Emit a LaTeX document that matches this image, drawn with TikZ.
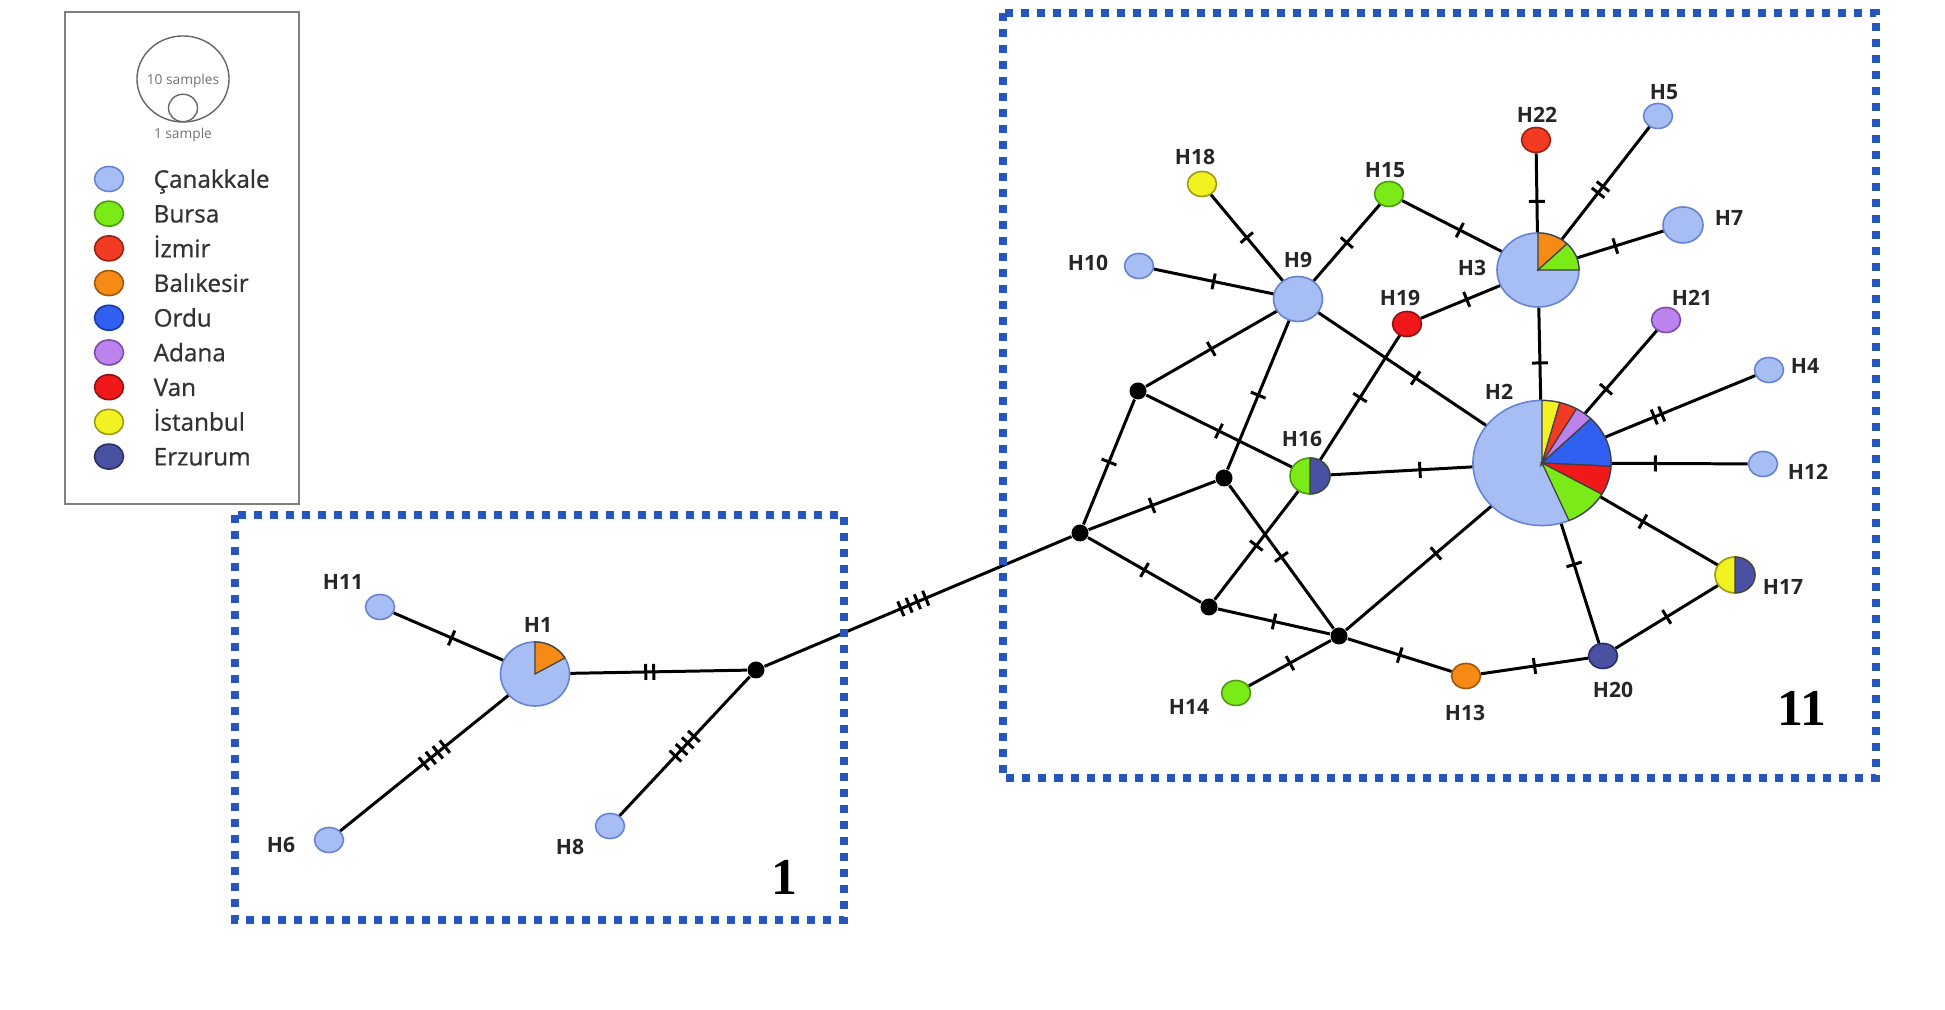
\documentclass[tikz,border=0pt]{standalone}
\usepackage{fontspec}
\setsansfont{Open Sans}
\newfontfamily\legfont[FakeBold=0.8]{Open Sans}
\newfontfamily\boxnumfont{Liberation Serif}
\usetikzlibrary{shapes.geometric,decorations.markings}
\definecolor{canakkale}{HTML}{A6BEF4}
\definecolor{canakkaleline}{HTML}{6682D4}
\definecolor{bursa}{HTML}{7AEB16}
\definecolor{bursaline}{HTML}{4C9A10}
\definecolor{izmir}{HTML}{F33A22}
\definecolor{izmirline}{HTML}{9A2010}
\definecolor{balikesir}{HTML}{F58A14}
\definecolor{balikesirline}{HTML}{A0560A}
\definecolor{ordu}{HTML}{3060F2}
\definecolor{orduline}{HTML}{1A3AA0}
\definecolor{adana}{HTML}{BC82EE}
\definecolor{adanaline}{HTML}{7A4AA8}
\definecolor{van}{HTML}{F01818}
\definecolor{vanline}{HTML}{901010}
\definecolor{istanbul}{HTML}{F2F222}
\definecolor{istanbulline}{HTML}{9A9A10}
\definecolor{erzurum}{HTML}{4A50A2}
\definecolor{erzurumline}{HTML}{2A2E66}
\definecolor{clusterblue}{HTML}{2456BE}
\newcommand{\pieslice}[6]{%
  \filldraw[fill=#6,draw=black!75,line width=0.35pt] (#1.center) -- ++(#2:#4 and #5)
    arc[start angle=#2,end angle=#3,x radius=#4,y radius=#5] -- cycle;}

\begin{document}
\begin{tikzpicture}[x=0.01cm,y=0.01cm,
  hap/.style={ellipse,inner sep=0pt,line width=0.45pt,draw=canakkaleline,fill=canakkale},
  col/.style={fill=#1,draw=#1line},
  sz1/.style={minimum width=0.29cm,minimum height=0.25cm},
  sz2/.style={minimum width=0.40cm,minimum height=0.36cm},
  jn/.style={circle,fill=black,inner sep=0pt,minimum size=0.17cm},
  hlbl/.style={font=\sffamily\bfseries\fontsize{6}{7}\selectfont,text=black!85,inner sep=0pt},
  leg/.style={font=\legfont\fontsize{6.9}{8}\selectfont,text=black!80,anchor=base west,inner sep=0pt,yshift=-0.088cm},
  ln/.style={line width=0.85pt},
  t1/.style={postaction={decorate,decoration={markings,mark=at position #1 with {\draw[line width=0.85pt] (0,-0.08cm) -- (0,0.08cm);}}}},
  t1/.default=0.5,
  t2/.style={postaction={decorate,decoration={markings,mark=at position #1 with {\draw[line width=0.85pt] (-0.04cm,-0.08cm) -- (-0.04cm,0.08cm) (0.04cm,-0.08cm) -- (0.04cm,0.08cm);}}}},
  t2/.default=0.5,
  t4/.style={postaction={decorate,decoration={markings,mark=at position #1 with {\draw[line width=0.85pt] (-0.135cm,-0.08cm) -- (-0.135cm,0.08cm) (-0.045cm,-0.08cm) -- (-0.045cm,0.08cm) (0.045cm,-0.08cm) -- (0.045cm,0.08cm) (0.135cm,-0.08cm) -- (0.135cm,0.08cm);}}}},
  t4/.default=0.5,
  cluster/.style={draw=clusterblue,line width=0.08cm,dash pattern=on 0.08cm off 0.08cm},
  boxnum/.style={font=\boxnumfont\bfseries\fontsize{14.7}{16}\selectfont,inner sep=0pt}]
\useasboundingbox (0,0) rectangle (1945,1010);

\draw[black!50,line width=0.75pt] (65,506) rectangle (299,998);
\node[ellipse,draw=black!60,line width=0.4pt,inner sep=0pt,minimum width=0.92cm,minimum height=0.86cm] (lgBig) at (183,931) {};
\node[ellipse,draw=black!60,line width=0.4pt,inner sep=0pt,minimum width=0.29cm,minimum height=0.274cm] (lgSmall) at (183,902) {};
\node[font=\sffamily\fontsize{3.9}{4}\selectfont,text=black!55] (lgTen) at (183,929) {10 samples};
\node[font=\sffamily\fontsize{3.9}{4}\selectfont,text=black!55] (lgOne) at (183,875) {1 sample};
\node[hap,sz1] (lg1) at (109,831) {};
\node[leg] (lt1) at (153,831) {Çanakkale};
\node[hap,sz1,col=bursa] (lg2) at (109,796.3) {};
\node[leg] (lt2) at (153,796.3) {Bursa};
\node[hap,sz1,col=izmir] (lg3) at (109,761.6) {};
\node[leg] (lt3) at (153,761.6) {İzmir};
\node[hap,sz1,col=balikesir] (lg4) at (109,726.9) {};
\node[leg] (lt4) at (153,726.9) {Balıkesir};
\node[hap,sz1,col=ordu] (lg5) at (109,692.2) {};
\node[leg] (lt5) at (153,692.2) {Ordu};
\node[hap,sz1,col=adana] (lg6) at (109,657.5) {};
\node[leg] (lt6) at (153,657.5) {Adana};
\node[hap,sz1,col=van] (lg7) at (109,622.8) {};
\node[leg] (lt7) at (153,622.8) {Van};
\node[hap,sz1,col=istanbul] (lg8) at (109,588.1) {};
\node[leg] (lt8) at (153,588.1) {İstanbul};
\node[hap,sz1,col=erzurum] (lg9) at (109,553.4) {};
\node[leg] (lt9) at (153,553.4) {Erzurum};

\node[hap,minimum width=0.69cm,minimum height=0.64cm] (H1) at (535,336) {};
\node[hap,sz1] (H6) at (329,170) {};
\node[hap,sz1] (H8) at (610,184) {};
\node[hap,sz1] (H11) at (380,403) {};
\node[jn] (J1) at (756,340) {};
\node[jn] (J2) at (1080,477) {};
\node[jn] (J3) at (1138,619) {};
\node[jn] (J4) at (1224,532) {};
\node[jn] (J5) at (1209,403) {};
\node[jn] (J6) at (1339,374) {};
\node[hap,minimum width=0.49cm,minimum height=0.45cm] (H9) at (1298,711) {};
\node[hap,sz1] (H10) at (1139,744) {};
\node[hap,sz1,col=istanbul] (H18) at (1202,826) {};
\node[hap,sz1,col=bursa] (H15) at (1389,816) {};
\node[hap,sz1,col=van] (H19) at (1407,686) {};
\node[hap,minimum width=0.82cm,minimum height=0.74cm] (H3) at (1538,740) {};
\node[hap,sz1,col=izmir] (H22) at (1536,870) {};
\node[hap,sz1] (H5) at (1658,894) {};
\node[hap,sz2] (H7) at (1683,785) {};
\node[hap,sz1,col=adana] (H21) at (1666,690) {};
\node[hap,sz1] (H4) at (1769,640) {};
\node[hap,minimum width=1.38cm,minimum height=1.25cm] (H2) at (1542,547) {};
\node[hap,sz1] (H12) at (1763,546) {};
\node[hap,sz2,col=istanbul] (H17) at (1735,435) {};
\node[hap,sz1,col=erzurum] (H20) at (1603,354) {};
\node[hap,sz1,col=balikesir] (H13) at (1466,334) {};
\node[hap,sz1,col=bursa] (H14) at (1236,317) {};
\node[hap,sz2,col=bursa] (H16) at (1310,534) {};

\pieslice{H1}{30}{90}{34.5}{32}{balikesir}
\pieslice{H3}{45}{90}{41}{37}{balikesir}
\pieslice{H3}{0}{45}{41}{37}{bursa}
\pieslice{H2}{75}{90}{69}{62.5}{istanbul}
\pieslice{H2}{60}{75}{69}{62.5}{izmir}
\pieslice{H2}{45}{60}{69}{62.5}{adana}
\pieslice{H2}{-3}{45}{69}{62.5}{ordu}
\pieslice{H2}{-30}{-3}{69}{62.5}{van}
\pieslice{H2}{-67}{-30}{69}{62.5}{bursa}
\pieslice{H16}{-90}{90}{20}{18}{erzurum}
\pieslice{H17}{-90}{90}{20}{18}{erzurum}

\draw[ln,t1=0.53] (H11) -- (H1);
\draw[ln,t4=0.56] (H6) -- (H1);
\draw[ln,t2=0.45] (H1) -- (J1);
\draw[ln,t4] (H8) -- (J1);
\draw[ln,t4=0.485] (J1) -- (J2);
\draw[ln,t1] (J2) -- (J3);
\draw[ln,t1] (J2) -- (J4);
\draw[ln,t1] (J2) -- (J5);
\draw[ln,t1] (J3) -- (H9);
\draw[ln,t1] (J3) -- (H16);
\draw[ln,t1] (J4) -- (H9);
\draw[ln,t1] (J4) -- (J6);
\draw[ln,t1] (J5) -- (H16);
\draw[ln,t1] (J5) -- (J6);
\draw[ln,t1] (J6) -- (H14);
\draw[ln,t1] (J6) -- (H13);
\draw[ln,t1=0.62] (J6) -- (H2);
\draw[ln,t1=0.63] (H16) -- (H2);
\draw[ln,t1] (H19) -- (H16);
\draw[ln,t1=0.58] (H19) -- (H3);
\draw[ln,t1] (H18) -- (H9);
\draw[ln,t1] (H10) -- (H9);
\draw[ln,t1] (H15) -- (H9);
\draw[ln,t1=0.58] (H15) -- (H3);
\draw[ln,t1=0.58] (H9) -- (H2);
\draw[ln,t1=0.61] (H22) -- (H3);
\draw[ln,t2=0.56] (H5) -- (H3);
\draw[ln,t1=0.56] (H7) -- (H3);
\draw[ln,t1=0.6] (H3) -- (H2);
\draw[ln,t1=0.71] (H21) -- (H2);
\draw[ln,t2=0.65] (H4) -- (H2);
\draw[ln,t1=0.68] (H12) -- (H2);
\draw[ln,t1=0.64] (H17) -- (H2);
\draw[ln,t1=0.66] (H20) -- (H2);
\draw[ln,t1] (H17) -- (H20);
\draw[ln,t1] (H13) -- (H20);

\node[hlbl] (lH1) at (538,385) {H1};
\node[hlbl] (lH6) at (281,165) {H6};
\node[hlbl] (lH8) at (570,163) {H8};
\node[hlbl] (lH11) at (343,428) {H11};
\node[hlbl] (lH9) at (1298,750) {H9};
\node[hlbl] (lH10) at (1088,747) {H10};
\node[hlbl] (lH18) at (1195,853) {H18};
\node[hlbl] (lH15) at (1385,840) {H15};
\node[hlbl] (lH19) at (1400,712) {H19};
\node[hlbl] (lH3) at (1472,742) {H3};
\node[hlbl] (lH22) at (1537,895) {H22};
\node[hlbl] (lH5) at (1664,918) {H5};
\node[hlbl] (lH7) at (1729,792) {H7};
\node[hlbl] (lH21) at (1692,712) {H21};
\node[hlbl] (lH4) at (1805,644) {H4};
\node[hlbl] (lH2) at (1499,618) {H2};
\node[hlbl] (lH12) at (1808,538) {H12};
\node[hlbl] (lH17) at (1783,423) {H17};
\node[hlbl] (lH20) at (1613,320) {H20};
\node[hlbl] (lH13) at (1465,297) {H13};
\node[hlbl] (lH14) at (1189,303) {H14};
\node[hlbl] (lH16) at (1302,571) {H16};

\draw[cluster] (235,495) rectangle (844,90);
\draw[cluster] (1003,997) rectangle (1876,232);
\node[boxnum] (n1) at (784,133) {1};
\node[boxnum] (n2) at (1802,302) {11};
\end{tikzpicture}
\end{document}
